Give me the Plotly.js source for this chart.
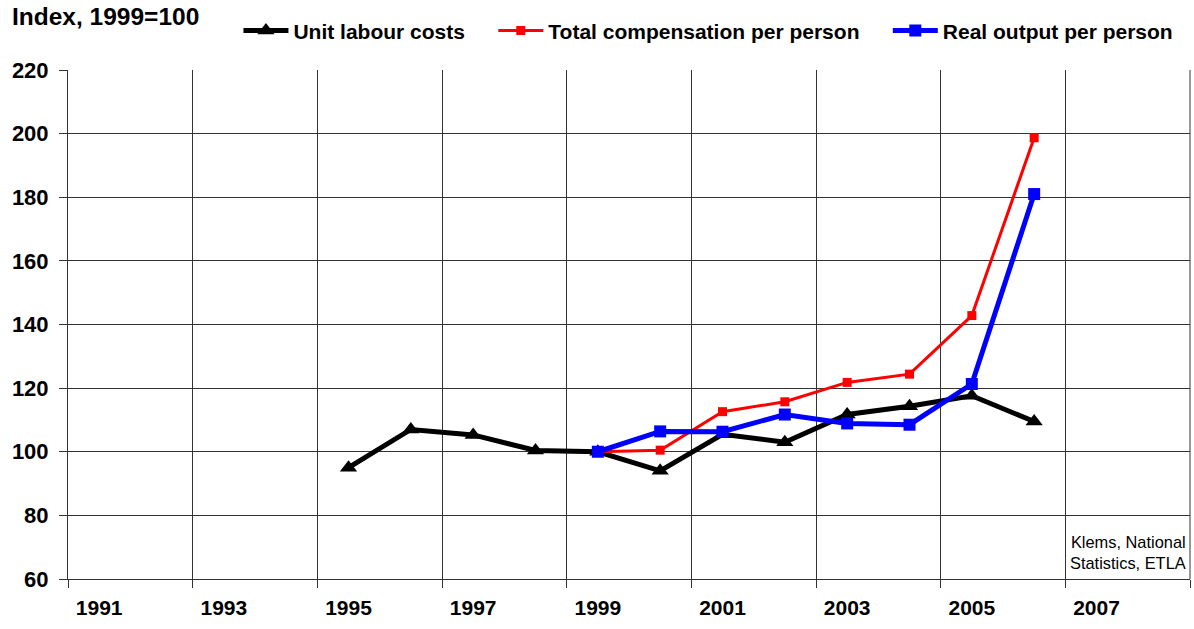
<!DOCTYPE html>
<html>
<head>
<meta charset="utf-8">
<script src="https://cdn.plot.ly/plotly-3.0.1.min.js"></script>
<style>html,body{margin:0;padding:0;background:#fff;}#chart{width:1194px;height:629px;}</style>
</head>
<body>
<div id="chart"></div>
<script>
const yearsULC = [1995, 1996, 1997, 1998, 1999, 2000, 2001, 2002, 2003, 2004, 2005, 2006];
const unitLabourCosts = [95, 107, 105.3, 100.4, 100, 94, 105.5, 103, 111.7, 114.3, 117.6, 109.5];
const yearsComp = [1999, 2000, 2001, 2002, 2003, 2004, 2005, 2006];
const totalCompensation = [100, 100.5, 112.6, 115.7, 121.8, 124.4, 142.8, 198.7];
const realOutput = [100, 106.4, 106.3, 111.7, 108.9, 108.5, 121.3, 181];
const tickYears = [1991, 1993, 1995, 1997, 1999, 2001, 2003, 2005, 2007];
const tickLabels = ['1991', '1993', '1995', '1997', '1999', '2001', '2003', '2005', '2007'];
const seriesNames = ['Unit labour costs', 'Total compensation per person', 'Real output per person'];

const font = 'Arial, "Liberation Sans", sans-serif';
const pad = '\u00a0\u00a0\u00a0\u00a0';

const traces = [
  {x: yearsULC, y: unitLabourCosts, name: seriesNames[0] + pad, mode: 'lines+markers',
   line: {color: '#000000', width: 5}, marker: {symbol: 'triangle-up', size: 15, color: '#000000'}},
  {x: yearsComp, y: totalCompensation, name: seriesNames[1] + pad, mode: 'lines+markers',
   line: {color: '#ff0000', width: 3}, marker: {symbol: 'square', size: 9, color: '#ff0000'}},
  {x: yearsComp, y: realOutput, name: seriesNames[2], mode: 'lines+markers',
   line: {color: '#0000ff', width: 5}, marker: {symbol: 'square', size: 12, color: '#0000ff'}}
];

const layout = {
  width: 1194, height: 629,
  margin: {l: 68, r: 4, t: 70, b: 50, autoexpand: false},
  paper_bgcolor: '#ffffff', plot_bgcolor: '#ffffff',
  font: {family: font, color: '#000000'},
  showlegend: true,
  legend: {orientation: 'h', xref: 'container', yref: 'container', x: 0.1997, xanchor: 'left',
    y: 0.951, yanchor: 'middle', itemwidth: 45,
    font: {family: font, size: 21, color: '#000000', weight: 'bold'},
    bgcolor: 'rgba(0,0,0,0)', traceorder: 'normal'},
  xaxis: {
    range: [1990.5, 2008.5], tickmode: 'array', tickvals: tickYears, ticktext: tickLabels,
    showgrid: false, ticks: '', zeroline: false,
    showline: true, linecolor: '#333333', linewidth: 1,
    tickfont: {family: font, size: 21, color: '#000000', weight: 'bold'},
    ticklabelstandoff: 10,
    minor: {tick0: 1990.5, dtick: 2, showgrid: true, gridcolor: '#333333', gridwidth: 1,
      ticks: 'outside', ticklen: 8, tickcolor: '#333333'}
  },
  yaxis: {
    range: [60, 220], dtick: 20, tick0: 60, showgrid: true, gridcolor: '#333333', gridwidth: 1,
    ticks: 'outside', ticklen: 8, tickcolor: '#333333', zeroline: false,
    showline: true, linecolor: '#333333', linewidth: 1, mirror: false,
    ticklabelstandoff: 6,
    tickfont: {family: font, size: 22, color: '#000000', weight: 'bold'}
  },
  shapes: [
    {type: 'line', xref: 'paper', yref: 'paper', x0: 1, x1: 1, y0: 0, y1: 1,
     line: {color: '#333333', width: 1}}
  ],
  annotations: [
    {text: 'Index, 1999=100', xref: 'paper', yref: 'paper', x: -0.052, y: 1.106,
     xanchor: 'left', yanchor: 'middle', showarrow: false,
     font: {family: font, size: 24.5, color: '#000000', weight: 'bold'}},
    {text: 'Klems, National<br>Statistics, ETLA', xref: 'paper', yref: 'paper', x: 0.9985, y: 0.01,
     xanchor: 'right', yanchor: 'bottom', align: 'right', showarrow: false,
     font: {family: font, size: 16.4, color: '#000000'}}
  ]
};

Plotly.newPlot('chart', traces, layout, {displayModeBar: false, staticPlot: true});
</script>
</body>
</html>
